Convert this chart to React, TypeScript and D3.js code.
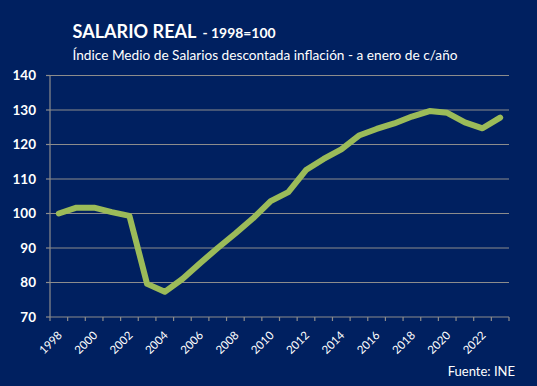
import React from "react";
import * as d3 from "d3";

const years = [
  "1998", "1999", "2000", "2001", "2002", "2003", "2004", "2005", "2006", "2007",
  "2008", "2009", "2010", "2011", "2012", "2013", "2014", "2015", "2016", "2017",
  "2018", "2019", "2020", "2021", "2022", "2023",
];
const salarioReal = [
  100, 101.7, 101.7, 100.4, 99.3, 79.6, 77.3, 81.0, 85.6, 90.0,
  94.2, 98.6, 103.6, 106.2, 112.6, 115.8, 118.6, 122.6, 124.5, 126.1,
  128.1, 129.7, 129.2, 126.4, 124.7, 127.8,
];
const yTicks = [70, 80, 90, 100, 110, 120, 130, 140];
const xLabelYears = years.filter((_, i) => i % 2 === 0);

const W = 537;
const H = 386;
const FONT = "Lato, 'Open Sans', sans-serif";

export default function App() {
  const left = 50;
  const right = 509;
  const top = 75.5;
  const bottom = 317;

  const x = d3.scaleBand<string>().domain(years).range([left, right]);
  const y = d3.scaleLinear().domain([70, 140]).range([bottom, top]);

  const line = d3
    .line<number>()
    .x((_, i) => (x(years[i]) as number) + x.bandwidth() / 2)
    .y((d) => y(d));

  const tickXs = years.map((yr) => x(yr) as number).concat([right]);

  return (
    <div style={{ position: "fixed", left: 0, top: 0 }}>
      <svg width={W} height={H} style={{ display: "block" }}>
        <rect x={0} y={0} width={W} height={H} fill="#002060" />
        {/* title */}
        <text x={72.5} y={37.7} fill="#ffffff" fontFamily={FONT} fontWeight="bold" fontSize={18} textLength={124} lengthAdjust="spacingAndGlyphs">
          SALARIO REAL
        </text>
        <text x={202.5} y={37.7} fill="#ffffff" fontFamily={FONT} fontWeight="bold" fontSize={13.5} textLength={73} lengthAdjust="spacingAndGlyphs">
          - 1998=100
        </text>
        <text
          x={72.5}
          y={59.5}
          fill="#ffffff"
          fontFamily={FONT}
          fontSize={14}
          textLength={385}
          lengthAdjust="spacingAndGlyphs"
        >
          Índice Medio de Salarios descontada inflación - a enero de c/año
        </text>

        {/* gridlines */}
        {yTicks.slice(1).map((t) => (
          <line key={t} x1={left} x2={right} y1={y(t)} y2={y(t)} stroke="#8c8c8c" strokeWidth={1.2} />
        ))}
        {/* y axis */}
        <line x1={left} x2={left} y1={top} y2={bottom} stroke="#8c8c8c" strokeWidth={1.2} />
        {yTicks.map((t) => (
          <g key={"yt" + t}>
            <line x1={left - 4} x2={left} y1={y(t)} y2={y(t)} stroke="#8c8c8c" strokeWidth={1.2} />
            <text
              x={36}
              y={y(t)}
              dy="0.35em"
              textAnchor="end"
              fill="#ffffff"
              fontFamily={FONT}
              fontWeight="bold"
              fontSize={13.5}
            >
              {t}
            </text>
          </g>
        ))}
        {/* x axis */}
        <line x1={left} x2={right} y1={bottom} y2={bottom} stroke="#8c8c8c" strokeWidth={1.2} />
        {tickXs.map((tx, i) => (
          <line key={"xt" + i} x1={tx} x2={tx} y1={bottom} y2={bottom + 4} stroke="#8c8c8c" strokeWidth={1.2} />
        ))}
        {xLabelYears.map((yr) => {
          const cx = (x(yr) as number) + x.bandwidth() / 2 + 4;
          const cy = 336;
          return (
            <text
              key={"xl" + yr}
              transform={`translate(${cx},${cy}) rotate(-45)`}
              textAnchor="end"
              fill="#ffffff"
              fontFamily={FONT}
              fontSize={11.5}
            >
              {yr}
            </text>
          );
        })}

        {/* series */}
        <path
          d={line(salarioReal) ?? ""}
          fill="none"
          stroke="#9bbb59"
          strokeWidth={6}
          strokeLinejoin="round"
          strokeLinecap="round"
        />

        <text
          x={515}
          y={376}
          textAnchor="end"
          fill="#ffffff"
          fontFamily={FONT}
          fontSize={13}
        >
          Fuente: INE
        </text>
      </svg>
    </div>
  );
}
